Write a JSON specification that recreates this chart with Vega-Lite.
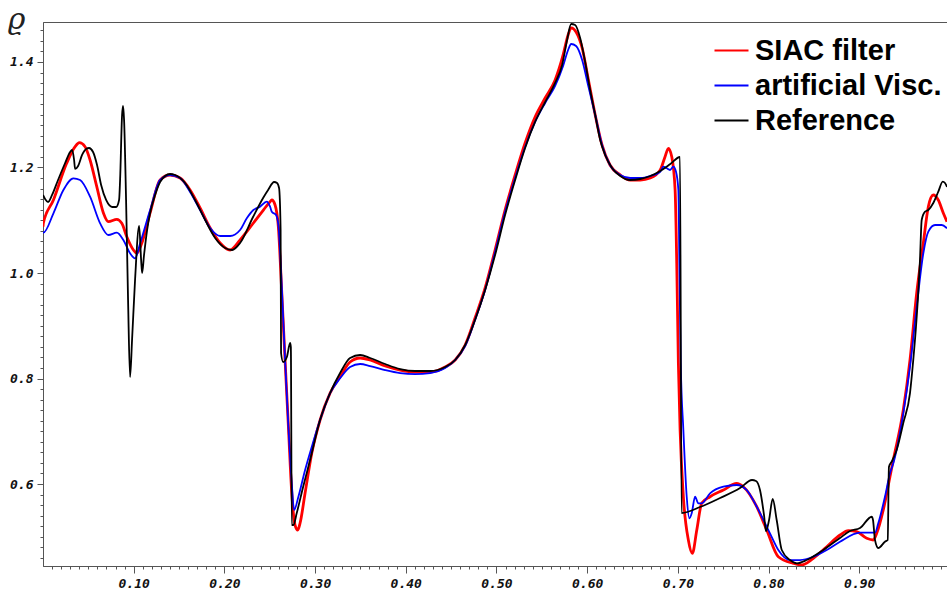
{
  "$schema": "https://vega.github.io/schema/vega-lite/v6.json",
  "width": 904,
  "height": 544,
  "autosize": {"type": "none"},
  "padding": {"left": 43, "top": 22, "right": 0, "bottom": 24},
  "background": "white",
  "config": {
    "view": {"stroke": "#555", "strokeWidth": 1},
    "axis": {"grid": false, "domainColor": "#555", "tickColor": "#555", "labelFont": "DejaVu Sans Mono", "labelFontWeight": "bold", "labelFontStyle": "italic", "labelFontSize": 13, "labelColor": "#111", "labelOverlap": false, "labelBound": false, "labelFlush": false}
  },
  "datasets": {
    "siac": [
      {"x":0,"y":1.0878},{"x":0.0004,"y":1.0948},{"x":0.0115,"y":1.1384},{"x":0.0262,"y":1.2085},{"x":0.0354,"y":1.2394},{"x":0.0401,"y":1.2470},{"x":0.0464,"y":1.2394},{"x":0.0519,"y":1.2142},{"x":0.0593,"y":1.1636},{"x":0.0666,"y":1.1138},{"x":0.0721,"y":1.0973},{"x":0.0814,"y":1.1018},{"x":0.0869,"y":1.0942},{"x":0.0924,"y":1.0688},{"x":0.0997,"y":1.0436},{"x":0.1034,"y":1.0374},{"x":0.1089,"y":1.0563},{"x":0.1181,"y":1.1138},{"x":0.1291,"y":1.1763},{"x":0.1401,"y":1.1858},{"x":0.1512,"y":1.1801},{"x":0.1622,"y":1.1574},{"x":0.1732,"y":1.1232},{"x":0.1843,"y":1.0853},{"x":0.1953,"y":1.0569},{"x":0.2063,"y":1.0436},{"x":0.2173,"y":1.0626},{"x":0.2320,"y":1.0948},{"x":0.2430,"y":1.1194},{"x":0.2504,"y":1.1352},{"x":0.2523,"y":1.1384},{"x":0.2559,"y":1.1289},{"x":0.2595,"y":1.0878},{"x":0.2633,"y":0.9621},{"x":0.2669,"y":0.8351},{"x":0.2706,"y":0.7086},{"x":0.2743,"y":0.5829},{"x":0.2779,"y":0.5223},{"x":0.2809,"y":0.5128},{"x":0.2835,"y":0.5261},{"x":0.2890,"y":0.5829},{"x":0.2964,"y":0.6588},{"x":0.3055,"y":0.7213},{"x":0.3166,"y":0.7725},{"x":0.3276,"y":0.8034},{"x":0.3386,"y":0.8313},{"x":0.3497,"y":0.8389},{"x":0.3607,"y":0.8351},{"x":0.3773,"y":0.8237},{"x":0.3938,"y":0.8161},{"x":0.4103,"y":0.8123},{"x":0.4268,"y":0.8123},{"x":0.4434,"y":0.8218},{"x":0.4545,"y":0.8351},{"x":0.4655,"y":0.8635},{"x":0.4764,"y":0.9147},{"x":0.4875,"y":0.9716},{"x":0.4985,"y":1.0436},{"x":0.5095,"y":1.1194},{"x":0.5206,"y":1.1858},{"x":0.5316,"y":1.2465},{"x":0.5426,"y":1.2957},{"x":0.5537,"y":1.3318},{"x":0.5647,"y":1.3659},{"x":0.5735,"y":1.4133},{"x":0.5790,"y":1.4512},{"x":0.5824,"y":1.4645},{"x":0.5878,"y":1.4569},{"x":0.5945,"y":1.4265},{"x":0.6010,"y":1.3697},{"x":0.6089,"y":1.2995},{"x":0.6164,"y":1.2427},{"x":0.6252,"y":1.2047},{"x":0.6365,"y":1.1858},{"x":0.6475,"y":1.1763},{"x":0.6586,"y":1.1763},{"x":0.6696,"y":1.1801},{"x":0.6806,"y":1.1953},{"x":0.6859,"y":1.2205},{"x":0.6896,"y":1.2364},{"x":0.6933,"y":1.2205},{"x":0.6970,"y":1.1574},{"x":0.6988,"y":1.0190},{"x":0.7006,"y":0.8294},{"x":0.7025,"y":0.7024},{"x":0.7061,"y":0.5759},{"x":0.7116,"y":0.4939},{"x":0.7160,"y":0.4686},{"x":0.7209,"y":0.5128},{"x":0.7263,"y":0.5634},{"x":0.7355,"y":0.5759},{"x":0.7502,"y":0.5886},{"x":0.7649,"y":0.6013},{"x":0.7722,"y":0.5949},{"x":0.7870,"y":0.5570},{"x":0.7980,"y":0.5128},{"x":0.8108,"y":0.4622},{"x":0.8273,"y":0.4497},{"x":0.8366,"y":0.4465},{"x":0.8494,"y":0.4592},{"x":0.8642,"y":0.4812},{"x":0.8788,"y":0.5033},{"x":0.8880,"y":0.5115},{"x":0.8973,"y":0.5096},{"x":0.9083,"y":0.4971},{"x":0.9155,"y":0.4939},{"x":0.9193,"y":0.5065},{"x":0.9265,"y":0.5507},{"x":0.9339,"y":0.6139},{"x":0.9376,"y":0.6455},{"x":0.9486,"y":0.7403},{"x":0.9560,"y":0.8351},{"x":0.9634,"y":0.9621},{"x":0.9707,"y":1.0569},{"x":0.9762,"y":1.1257},{"x":0.9817,"y":1.1479},{"x":0.9872,"y":1.1384},{"x":0.9927,"y":1.1138},{"x":0.9968,"y":1.0973}
    ],
    "visc": [
      {"x":0,"y":1.0783},{"x":0.0004,"y":1.0764},{"x":0.0115,"y":1.1132},{"x":0.0225,"y":1.1574},{"x":0.0335,"y":1.1795},{"x":0.0409,"y":1.1763},{"x":0.0519,"y":1.1447},{"x":0.0630,"y":1.0942},{"x":0.0721,"y":1.0720},{"x":0.0814,"y":1.0764},{"x":0.0886,"y":1.0626},{"x":0.0960,"y":1.0374},{"x":0.1015,"y":1.0279},{"x":0.1071,"y":1.0563},{"x":0.1181,"y":1.1194},{"x":0.1291,"y":1.1763},{"x":0.1401,"y":1.1858},{"x":0.1512,"y":1.1801},{"x":0.1622,"y":1.1536},{"x":0.1732,"y":1.1194},{"x":0.1843,"y":1.0853},{"x":0.1953,"y":1.0701},{"x":0.2063,"y":1.0701},{"x":0.2173,"y":1.0815},{"x":0.2247,"y":1.1037},{"x":0.2320,"y":1.1194},{"x":0.2393,"y":1.1257},{"x":0.2467,"y":1.1352},{"x":0.2504,"y":1.1257},{"x":0.2523,"y":1.1162},{"x":0.2570,"y":1.1100},{"x":0.2595,"y":1.0910},{"x":0.2633,"y":0.9740},{"x":0.2669,"y":0.8351},{"x":0.2706,"y":0.7086},{"x":0.2743,"y":0.6013},{"x":0.2769,"y":0.5507},{"x":0.2816,"y":0.5759},{"x":0.2890,"y":0.6266},{"x":0.2964,"y":0.6707},{"x":0.3055,"y":0.7213},{"x":0.3166,"y":0.7725},{"x":0.3276,"y":0.8004},{"x":0.3386,"y":0.8218},{"x":0.3497,"y":0.8275},{"x":0.3607,"y":0.8237},{"x":0.3773,"y":0.8161},{"x":0.3938,"y":0.8104},{"x":0.4103,"y":0.8085},{"x":0.4268,"y":0.8104},{"x":0.4434,"y":0.8199},{"x":0.4545,"y":0.8351},{"x":0.4655,"y":0.8616},{"x":0.4764,"y":0.9109},{"x":0.4875,"y":0.9678},{"x":0.4985,"y":1.0398},{"x":0.5095,"y":1.1157},{"x":0.5206,"y":1.1801},{"x":0.5316,"y":1.2389},{"x":0.5426,"y":1.2863},{"x":0.5537,"y":1.3223},{"x":0.5647,"y":1.3545},{"x":0.5735,"y":1.3924},{"x":0.5790,"y":1.4227},{"x":0.5824,"y":1.4341},{"x":0.5878,"y":1.4303},{"x":0.5945,"y":1.4038},{"x":0.6010,"y":1.3564},{"x":0.6089,"y":1.2995},{"x":0.6164,"y":1.2427},{"x":0.6252,"y":1.2047},{"x":0.6365,"y":1.1858},{"x":0.6475,"y":1.1801},{"x":0.6586,"y":1.1801},{"x":0.6696,"y":1.1839},{"x":0.6806,"y":1.1920},{"x":0.6840,"y":1.2015},{"x":0.6878,"y":1.1985},{"x":0.6914,"y":1.1953},{"x":0.6951,"y":1.2015},{"x":0.6980,"y":1.1920},{"x":0.7006,"y":1.1574},{"x":0.7017,"y":1.0190},{"x":0.7032,"y":0.8294},{"x":0.7061,"y":0.7024},{"x":0.7098,"y":0.5759},{"x":0.7127,"y":0.5350},{"x":0.7153,"y":0.5445},{"x":0.7190,"y":0.5759},{"x":0.7226,"y":0.5634},{"x":0.7263,"y":0.5634},{"x":0.7355,"y":0.5824},{"x":0.7502,"y":0.5949},{"x":0.7649,"y":0.5981},{"x":0.7760,"y":0.5886},{"x":0.7870,"y":0.5570},{"x":0.8016,"y":0.5065},{"x":0.8108,"y":0.4749},{"x":0.8237,"y":0.4559},{"x":0.8348,"y":0.4559},{"x":0.8494,"y":0.4622},{"x":0.8642,"y":0.4749},{"x":0.8788,"y":0.4906},{"x":0.9009,"y":0.5077},{"x":0.9174,"y":0.5077},{"x":0.9210,"y":0.5255},{"x":0.9284,"y":0.5759},{"x":0.9339,"y":0.6203},{"x":0.9376,"y":0.6392},{"x":0.9486,"y":0.7340},{"x":0.9560,"y":0.8224},{"x":0.9634,"y":0.9361},{"x":0.9707,"y":1.0374},{"x":0.9762,"y":1.0783},{"x":0.9836,"y":1.0910},{"x":0.9910,"y":1.0910},{"x":0.9968,"y":1.0848}
    ],
    "ref": [
      {"x":0,"y":1.1479},{"x":0.0023,"y":1.1403},{"x":0.0056,"y":1.1346},{"x":0.0100,"y":1.1479},{"x":0.0166,"y":1.1763},{"x":0.0244,"y":1.2085},{"x":0.0299,"y":1.2294},{"x":0.0321,"y":1.2332},{"x":0.0343,"y":1.2142},{"x":0.0354,"y":1.1972},{"x":0.0387,"y":1.2028},{"x":0.0431,"y":1.2237},{"x":0.0475,"y":1.2351},{"x":0.0508,"y":1.2370},{"x":0.0552,"y":1.2294},{"x":0.0596,"y":1.2047},{"x":0.0641,"y":1.1668},{"x":0.0696,"y":1.1384},{"x":0.0762,"y":1.1251},{"x":0.0806,"y":1.1251},{"x":0.0839,"y":1.1384},{"x":0.0850,"y":1.1763},{"x":0.0872,"y":1.2995},{"x":0.0883,"y":1.3166},{"x":0.0894,"y":1.2900},{"x":0.0916,"y":1.1384},{"x":0.0938,"y":0.9488},{"x":0.0960,"y":0.8029},{"x":0.0982,"y":0.8730},{"x":0.1015,"y":0.9867},{"x":0.1060,"y":1.0891},{"x":0.1082,"y":1.0247},{"x":0.1093,"y":1.0000},{"x":0.1114,"y":1.0341},{"x":0.1148,"y":1.0815},{"x":0.1181,"y":1.1138},{"x":0.1236,"y":1.1479},{"x":0.1291,"y":1.1725},{"x":0.1346,"y":1.1839},{"x":0.1401,"y":1.1877},{"x":0.1456,"y":1.1858},{"x":0.1567,"y":1.1706},{"x":0.1677,"y":1.1384},{"x":0.1788,"y":1.1005},{"x":0.1898,"y":1.0664},{"x":0.2008,"y":1.0474},{"x":0.2085,"y":1.0436},{"x":0.2173,"y":1.0569},{"x":0.2316,"y":1.1062},{"x":0.2427,"y":1.1422},{"x":0.2482,"y":1.1573},{"x":0.2548,"y":1.1725},{"x":0.2581,"y":1.1706},{"x":0.2603,"y":1.1611},{"x":0.2620,"y":1.0815},{"x":0.2625,"y":0.8484},{"x":0.2648,"y":0.8313},{"x":0.2689,"y":0.8408},{"x":0.2725,"y":0.8673},{"x":0.2733,"y":0.8597},{"x":0.2743,"y":0.5223},{"x":0.2761,"y":0.5223},{"x":0.2798,"y":0.5450},{"x":0.2868,"y":0.5943},{"x":0.2945,"y":0.6455},{"x":0.3055,"y":0.7213},{"x":0.3166,"y":0.7725},{"x":0.3276,"y":0.8104},{"x":0.3386,"y":0.8389},{"x":0.3497,"y":0.8446},{"x":0.3607,"y":0.8389},{"x":0.3773,"y":0.8275},{"x":0.3938,"y":0.8180},{"x":0.4103,"y":0.8142},{"x":0.4268,"y":0.8142},{"x":0.4434,"y":0.8218},{"x":0.4545,"y":0.8351},{"x":0.4655,"y":0.8635},{"x":0.4764,"y":0.9109},{"x":0.4875,"y":0.9678},{"x":0.4985,"y":1.0341},{"x":0.5095,"y":1.1100},{"x":0.5206,"y":1.1763},{"x":0.5316,"y":1.2370},{"x":0.5426,"y":1.2863},{"x":0.5537,"y":1.3242},{"x":0.5647,"y":1.3602},{"x":0.5724,"y":1.3943},{"x":0.5779,"y":1.4417},{"x":0.5824,"y":1.4720},{"x":0.5868,"y":1.4701},{"x":0.5923,"y":1.4455},{"x":0.5978,"y":1.4000},{"x":0.6033,"y":1.3469},{"x":0.6089,"y":1.2995},{"x":0.6144,"y":1.2521},{"x":0.6199,"y":1.2237},{"x":0.6274,"y":1.1991},{"x":0.6365,"y":1.1839},{"x":0.6475,"y":1.1763},{"x":0.6586,"y":1.1782},{"x":0.6696,"y":1.1839},{"x":0.6806,"y":1.1934},{"x":0.6917,"y":1.2066},{"x":0.7024,"y":1.2199},{"x":0.7041,"y":0.5450},{"x":0.7245,"y":0.5564},{"x":0.7466,"y":0.5735},{"x":0.7686,"y":0.5924},{"x":0.7818,"y":0.6076},{"x":0.7862,"y":0.6057},{"x":0.7906,"y":0.5886},{"x":0.7950,"y":0.5413},{"x":0.7972,"y":0.5109},{"x":0.8006,"y":0.5318},{"x":0.8046,"y":0.5716},{"x":0.8090,"y":0.5318},{"x":0.8146,"y":0.4749},{"x":0.8237,"y":0.4559},{"x":0.8311,"y":0.4497},{"x":0.8421,"y":0.4559},{"x":0.8604,"y":0.4749},{"x":0.8788,"y":0.4977},{"x":0.8898,"y":0.5109},{"x":0.9009,"y":0.5166},{"x":0.9138,"y":0.5380},{"x":0.9152,"y":0.5318},{"x":0.9174,"y":0.4939},{"x":0.9210,"y":0.4787},{"x":0.9284,"y":0.4906},{"x":0.9314,"y":0.4939},{"x":0.9328,"y":0.6328},{"x":0.9358,"y":0.6423},{"x":0.9413,"y":0.6645},{"x":0.9486,"y":0.7157},{"x":0.9560,"y":0.7725},{"x":0.9596,"y":0.8351},{"x":0.9626,"y":0.8976},{"x":0.9651,"y":0.9621},{"x":0.9670,"y":1.0247},{"x":0.9689,"y":1.1005},{"x":0.9726,"y":1.1162},{"x":0.9762,"y":1.1194},{"x":0.9817,"y":1.1327},{"x":0.9872,"y":1.1541},{"x":0.9921,"y":1.1731},{"x":0.9946,"y":1.1706},{"x":0.9968,"y":1.1630}
    ]
  },
  "encoding": {
    "x": {"field": "x", "type": "quantitative", "scale": {"domain": [0, 0.9968], "nice": false, "zero": false},
      "axis": {"orient": "bottom", "title": null,
        "values": [0.01,0.02,0.03,0.04,0.05,0.06,0.07,0.08,0.09,0.1,0.11,0.12,0.13,0.14,0.15,0.16,0.17,0.18,0.19,0.2,0.21,0.22,0.23,0.24,0.25,0.26,0.27,0.28,0.29,0.3,0.31,0.32,0.33,0.34,0.35,0.36,0.37,0.38,0.39,0.4,0.41,0.42,0.43,0.44,0.45,0.46,0.47,0.48,0.49,0.5,0.51,0.52,0.53,0.54,0.55,0.56,0.57,0.58,0.59,0.6,0.61,0.62,0.63,0.64,0.65,0.66,0.67,0.68,0.69,0.7,0.71,0.72,0.73,0.74,0.75,0.76,0.77,0.78,0.79,0.8,0.81,0.82,0.83,0.84,0.85,0.86,0.87,0.88,0.89,0.9,0.91,0.92,0.93,0.94,0.95,0.96,0.97,0.98,0.99],
        "tickSize": {"condition": {"test": "abs(datum.value*10 - round(datum.value*10)) < 0.001", "value": 7}, "value": 3},
        "labelExpr": "abs(datum.value*10 - round(datum.value*10)) < 0.001 ? format(datum.value, '.2f') : ''",
        "labelPadding": 4}},
    "y": {"field": "y", "type": "quantitative", "scale": {"domain": [0.4446, 1.4758], "nice": false, "zero": false},
      "axis": {"orient": "left",
        "values": [0.46,0.48,0.5,0.52,0.54,0.56,0.58,0.6,0.62,0.64,0.66,0.68,0.7,0.72,0.74,0.76,0.78,0.8,0.82,0.84,0.86,0.88,0.9,0.92,0.94,0.96,0.98,1,1.02,1.04,1.06,1.08,1.1,1.12,1.14,1.16,1.18,1.2,1.22,1.24,1.26,1.28,1.3,1.32,1.34,1.36,1.38,1.4,1.42,1.44,1.46],
        "tickSize": {"condition": {"test": "abs(datum.value*5 - round(datum.value*5)) < 0.001", "value": 6}, "value": 3},
        "labelExpr": "abs(datum.value*5 - round(datum.value*5)) < 0.001 ? format(datum.value, '.1f') : ''",
        "labelPadding": 4,
        "title": "ϱ", "titleAngle": 0, "titleX": -27, "titleY": 6, "titleAlign": "center", "titleBaseline": "alphabetic",
        "titleFont": "DejaVu Serif", "titleFontStyle": "italic", "titleFontWeight": "normal", "titleFontSize": 30, "titleColor": "#222"}}
  },
  "layer": [
    {
      "data": {"name": "siac"},
      "mark": {"type": "line", "strokeWidth": 2.8, "interpolate": "monotone", "clip": true},
      "encoding": {
        "color": {"datum": "SIAC filter", "type": "nominal",
          "scale": {"domain": ["SIAC filter", "artificial Visc.", "Reference"], "range": ["#ff0000", "#0000ff", "#000000"]},
          "legend": {"orient": "none", "legendX": 670, "legendY": 10, "title": null, "symbolType": "stroke", "symbolSize": 1156, "symbolStrokeWidth": 2.2, "labelFont": "Liberation Sans", "labelFontSize": 29, "labelFontWeight": "bold", "labelColor": "#000", "labelOffset": 5, "rowPadding": 1, "labelLimit": 400, "padding": 0}}
      }
    },
    {
      "data": {"name": "visc"},
      "mark": {"type": "line", "strokeWidth": 1.8, "interpolate": "monotone", "clip": true},
      "encoding": {
        "color": {"datum": "artificial Visc.", "type": "nominal"}
      }
    },
    {
      "data": {"name": "ref"},
      "mark": {"type": "line", "strokeWidth": 1.8, "interpolate": "monotone", "clip": true},
      "encoding": {
        "color": {"datum": "Reference", "type": "nominal"}
      }
    }
  ]
}
